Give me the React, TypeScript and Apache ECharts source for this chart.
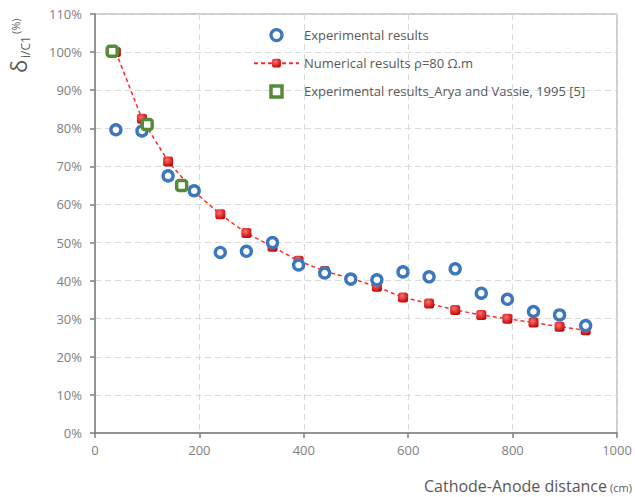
import React, { useEffect, useRef } from "react";
import * as echarts from "echarts";

const numX = [40, 90, 140, 190, 240, 290, 340, 390, 440, 490, 540, 590, 640, 690, 740, 790, 840, 890, 940];
const numY = [100, 82.5, 71.3, 63.4, 57.4, 52.5, 48.9, 45.2, 42.5, 40.6, 38.4, 35.6, 34.0, 32.3, 31.0, 30.0, 29.0, 27.9, 27.0];
const expX = [40, 90, 140, 190, 240, 290, 340, 390, 440, 490, 540, 590, 640, 690, 740, 790, 840, 890, 940];
const expY = [79.6, 79.3, 67.5, 63.6, 47.4, 47.7, 50.0, 44.1, 42.0, 40.4, 40.2, 42.3, 41.0, 43.1, 36.7, 35.1, 31.9, 31.0, 28.2];
const aryaX = [33, 100, 166];
const aryaY = [100.2, 81.0, 65.0];

const xTicks = { min: 0, max: 1000, interval: 200 };
const yTicks = { min: 0, max: 110, interval: 10 };

const names = [
  "Experimental results",
  "Numerical results ρ=80 Ω.m",
  "Experimental results_Arya and Vassie, 1995 [5]",
];

export default function App() {
  const ref = useRef<HTMLDivElement>(null);
  useEffect(() => {
    document.body.style.margin = "0";
    if (!ref.current) return;
    const chart = echarts.init(ref.current, null, { renderer: "svg" });
    const font = "'Open Sans', 'Noto Sans', sans-serif";
    const zip = (xs: number[], ys: number[]) => xs.map((x, i) => [x, ys[i]]);
    chart.setOption({
      animation: false,
      textStyle: { fontFamily: font },
      grid: {
        left: 95,
        right: 18,
        top: 14,
        bottom: 64,
        show: true,
        borderColor: "#9a9a9a",
        borderWidth: 1,
      },
      legend: {
        orient: "vertical",
        left: 248,
        top: 23,
        itemWidth: 45,
        itemHeight: 11,
        itemGap: 14.5,
        textStyle: { color: "#595959", fontSize: 13, fontFamily: font },
        data: [
          { name: names[0], icon: "circle", itemStyle: { color: "#ffffff", borderColor: "#3b78bd", borderWidth: 3.2 } },
          { name: names[1] },
          {
            name: names[2],
            icon: "path://M0,0 L10,0 L10,10 L0,10 Z",
            itemStyle: { color: "#ffffff", borderColor: "#558a38", borderWidth: 3.5 },
          },
        ],
      },
      xAxis: {
        type: "value",
        ...xTicks,
        axisLine: { show: true, lineStyle: { color: "#7f7f7f", width: 1.5 } },
        axisTick: { show: true, length: 5, lineStyle: { color: "#7f7f7f", width: 1.5 } },
        axisLabel: { color: "#7f7f7f", fontSize: 13, margin: 10, formatter: (v: number) => String(v) },
        splitLine: { show: true, lineStyle: { color: "#d9d9d9", type: [6, 4] } },
      },
      yAxis: {
        type: "value",
        ...yTicks,
        axisLine: { show: true, lineStyle: { color: "#7f7f7f", width: 1.5 } },
        axisTick: { show: true, length: 5, lineStyle: { color: "#7f7f7f", width: 1.5 } },
        axisLabel: { color: "#7f7f7f", fontSize: 13, margin: 13, formatter: "{value}%" },
        splitLine: { show: true, lineStyle: { color: "#d9d9d9", type: [6, 4] } },
      },
      series: [
        {
          name: names[1],
          type: "line",
          data: zip(numX, numY),
          symbol: "roundRect",
          symbolSize: 10,
          lineStyle: { color: "#ff2a2a", width: 1.5, type: [4, 3] },
          itemStyle: {
            color: new echarts.graphic.RadialGradient(0.4, 0.35, 0.7, [
              { offset: 0, color: "#ff7070" },
              { offset: 1, color: "#c00000" },
            ]),
          },
          z: 2,
        },
        {
          name: names[0],
          type: "scatter",
          data: zip(expX, expY),
          symbol: "circle",
          symbolSize: 10,
          itemStyle: { color: "#ffffff", borderColor: "#3b78bd", borderWidth: 3.4, opacity: 1 },
          z: 3,
        },
        {
          name: names[2],
          type: "scatter",
          data: zip(aryaX, aryaY),
          symbol: "roundRect",
          symbolSize: 10,
          itemStyle: { color: "#ffffff", borderColor: "#558a38", borderWidth: 3.5, opacity: 1 },
          z: 4,
        },
      ],
      graphic: [
        {
          type: "group",
          x: 18,
          y: 73,
          rotation: Math.PI / 2,
          children: [
            {
              type: "text",
              x: 0,
              y: 0,
              style: { text: "δ", fontSize: 22, fill: "#595959", fontFamily: font, verticalAlign: "middle", align: "left" },
            },
            {
              type: "text",
              x: 15,
              y: 7,
              style: { text: "i/C1", fontSize: 12, fill: "#595959", fontFamily: font, verticalAlign: "middle", align: "left" },
            },
            {
              type: "text",
              x: 39,
              y: -3,
              style: { text: "(%)", fontSize: 11, fill: "#595959", fontFamily: font, verticalAlign: "middle", align: "left" },
            },
          ],
        },
        {
          type: "text",
          x: 607,
          y: 486,
          style: { text: "Cathode-Anode distance", fontSize: 16, fill: "#595959", fontFamily: font, align: "right", verticalAlign: "middle" },
        },
        {
          type: "text",
          x: 610,
          y: 487,
          style: { text: "(cm)", fontSize: 11, fill: "#595959", fontFamily: font, align: "left", verticalAlign: "middle" },
        },
      ],
    });
    return () => chart.dispose();
  }, []);
  return <div ref={ref} style={{ width: 635, height: 497 }} />;
}
